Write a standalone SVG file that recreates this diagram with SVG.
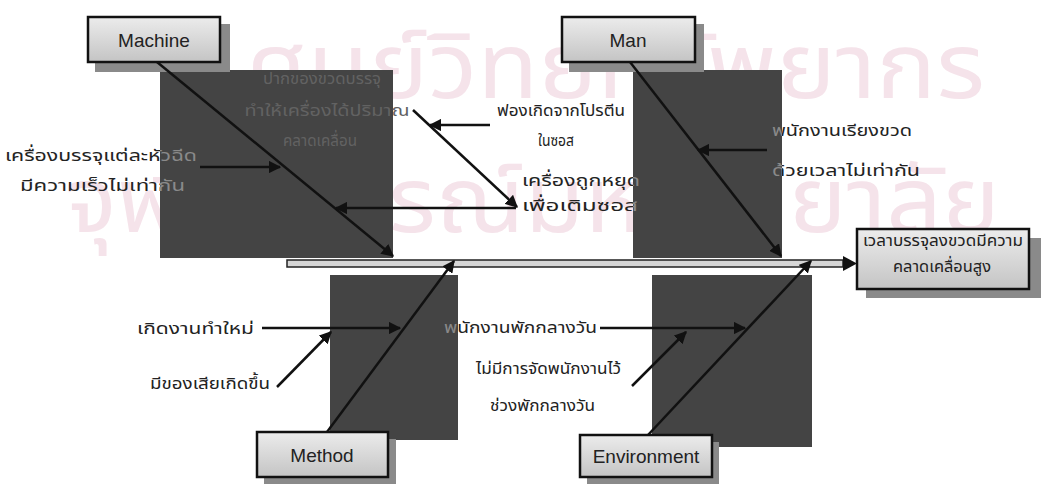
<svg xmlns="http://www.w3.org/2000/svg" width="1051" height="484" viewBox="0 0 1051 484">
<style>
.wm{font-family:"Noto Sans Thai","Tahoma","DejaVu Sans",sans-serif;font-size:92px;fill:#f5e3ea}
.t{font-family:"Noto Sans Thai","Tahoma","Liberation Sans",sans-serif;font-size:16.5px;fill:#222}
.ti{font-family:"Noto Sans Thai","Tahoma","Liberation Sans",sans-serif;font-size:16px;fill:#626262}
.lbl{font-family:"Liberation Sans",Arial,sans-serif;font-size:19px;fill:#222;text-anchor:middle}
.eff{font-family:"Noto Sans Thai","Tahoma","Liberation Sans",sans-serif;font-size:16px;fill:#222;text-anchor:middle}
.dark{fill:#444}
.box{fill:url(#g);stroke:#111;stroke-width:2.5}
.sh{fill:#8a8a8a}
.ar{stroke:#111;stroke-width:2.5;fill:none;marker-end:url(#ah)}
</style>
<defs>
<linearGradient id="g" x1="0" y1="0" x2="0" y2="1"><stop offset="0" stop-color="#ececec"/><stop offset="1" stop-color="#c4c4c4"/></linearGradient>
<linearGradient id="gM" gradientUnits="userSpaceOnUse" x1="0" y1="0" x2="1051" y2="0"><stop offset="0" stop-color="#222"/><stop offset="0.1522" stop-color="#222"/><stop offset="0.1522" stop-color="#8a8a8a"/><stop offset="1" stop-color="#8a8a8a"/></linearGradient>
<linearGradient id="gC" gradientUnits="userSpaceOnUse" x1="0" y1="0" x2="1051" y2="0"><stop offset="0" stop-color="#222"/><stop offset="0.6023" stop-color="#222"/><stop offset="0.6023" stop-color="#8a8a8a"/><stop offset="1" stop-color="#8a8a8a"/></linearGradient>
<linearGradient id="gR" gradientUnits="userSpaceOnUse" x1="0" y1="0" x2="1051" y2="0"><stop offset="0" stop-color="#8a8a8a"/><stop offset="0.7441" stop-color="#8a8a8a"/><stop offset="0.7441" stop-color="#222"/><stop offset="1" stop-color="#222"/></linearGradient>
<linearGradient id="gL" gradientUnits="userSpaceOnUse" x1="0" y1="0" x2="1051" y2="0"><stop offset="0" stop-color="#8a8a8a"/><stop offset="0.4358" stop-color="#8a8a8a"/><stop offset="0.4358" stop-color="#222"/><stop offset="1" stop-color="#222"/></linearGradient>
<marker id="ah" viewBox="0 0 10 10" refX="9" refY="5" markerWidth="5" markerHeight="5" orient="auto" markerUnits="strokeWidth"><path d="M0,0 L10,5 L0,10 Z" fill="#111"/></marker>
</defs>
<rect width="1051" height="484" fill="#fff"/>
<g id="watermark">
<text class="wm" x="245" y="98" textLength="740" lengthAdjust="spacingAndGlyphs">ศูนย์วิทยทรัพยากร</text>
<text class="wm" x="65" y="232" textLength="935" lengthAdjust="spacingAndGlyphs">จุฬาลงกรณ์มหาวิทยาลัย</text>
</g>
<g id="machine">
<rect class="dark" x="160" y="70" width="233" height="188"/>
<rect class="sh" x="95" y="24" width="135" height="48"/>
<rect class="box" x="88" y="17" width="132" height="45"/>
<text class="lbl" x="154" y="47">Machine</text>
</g>
<g id="man">
<rect class="dark" x="633" y="70" width="149" height="188"/>
<rect class="sh" x="569" y="24" width="135" height="48"/>
<rect class="box" x="562" y="17" width="133" height="45"/>
<text class="lbl" x="628" y="47">Man</text>
</g>
<g id="method">
<rect class="dark" x="330" y="275" width="128" height="165"/>
<rect class="sh" x="264" y="439" width="132" height="45"/>
<rect class="box" x="257" y="432" width="131" height="45"/>
<text class="lbl" x="322" y="462">Method</text>
</g>
<g id="environment">
<rect class="dark" x="652" y="275" width="160" height="172"/>
<rect class="sh" x="587" y="442" width="132" height="42"/>
<rect class="box" x="580" y="435" width="132" height="42"/>
<text class="lbl" x="646" y="463">Environment</text>
</g>
<g id="effect">
<rect class="sh" x="866" y="238" width="175" height="60"/>
<rect class="box" x="857" y="229" width="172" height="60"/>
<text class="eff" x="943" y="246" textLength="160" lengthAdjust="spacingAndGlyphs">เวลาบรรจุลงขวดมีความ</text>
<text class="eff" x="942" y="272" textLength="98" lengthAdjust="spacingAndGlyphs">คลาดเคลื่อนสูง</text>
</g>
<g id="machine-causes">
<text class="t" x="5" y="161" textLength="192" lengthAdjust="spacingAndGlyphs" fill="url(#gM)" style="fill:url(#gM)">เครื่องบรรจุแต่ละหัวฉีด</text>
<text class="t" x="20" y="191" textLength="165" lengthAdjust="spacingAndGlyphs" style="fill:url(#gM)">มีความเร็วไม่เท่ากัน</text>
<text class="ti" x="322" y="84" text-anchor="middle" textLength="118" lengthAdjust="spacingAndGlyphs">ปากของขวดบรรจุ</text>
<text class="ti" x="327" y="116" text-anchor="middle" textLength="165" lengthAdjust="spacingAndGlyphs">ทำให้เครื่องได้ปริมาณ</text>
<text class="ti" x="320" y="146" text-anchor="middle" textLength="74" lengthAdjust="spacingAndGlyphs">คลาดเคลื่อน</text>
<text class="t" x="497" y="116" textLength="128" lengthAdjust="spacingAndGlyphs" style="fill:url(#gC)">ฟองเกิดจากโปรตีน</text>
<text class="t" x="538" y="146" textLength="36" lengthAdjust="spacingAndGlyphs">ในซอส</text>
<text class="t" x="522" y="186" textLength="118" lengthAdjust="spacingAndGlyphs" style="fill:url(#gC)">เครื่องถูกหยุด</text>
<text class="t" x="522" y="211" textLength="116" lengthAdjust="spacingAndGlyphs" style="fill:url(#gC)">เพื่อเติมซอส</text>
</g>
<g id="man-causes">
<text class="t" x="772" y="136" textLength="140" lengthAdjust="spacingAndGlyphs" style="fill:url(#gR)">พนักงานเรียงขวด</text>
<text class="t" x="772" y="176" textLength="148" lengthAdjust="spacingAndGlyphs" style="fill:url(#gR)">ด้วยเวลาไม่เท่ากัน</text>
</g>
<g id="method-causes">
<text class="t" x="137" y="334" textLength="117" lengthAdjust="spacingAndGlyphs">เกิดงานทำใหม่</text>
<text class="t" x="150" y="389" textLength="120" lengthAdjust="spacingAndGlyphs">มีของเสียเกิดขึ้น</text>
</g>
<g id="environment-causes">
<text class="t" x="444" y="333" textLength="153" lengthAdjust="spacingAndGlyphs" style="fill:url(#gL)">พนักงานพักกลางวัน</text>
<text class="t" x="476" y="374" textLength="145" lengthAdjust="spacingAndGlyphs">ไม่มีการจัดพนักงานไว้</text>
<text class="t" x="490" y="411" textLength="105" lengthAdjust="spacingAndGlyphs">ช่วงพักกลางวัน</text>
</g>
<g id="connectors">
<rect x="287" y="260" width="556" height="7" fill="#d6d6d6" stroke="#222" stroke-width="1.5"/>
<path d="M843,256 L857,263.5 L843,271 Z" fill="#111"/>
<line class="ar" x1="157" y1="62" x2="393" y2="256"/>
<line class="ar" x1="630" y1="62" x2="781" y2="256"/>
<line class="ar" x1="327" y1="432" x2="454" y2="261"/>
<line class="ar" x1="648" y1="435" x2="811" y2="261"/>
<line class="ar" x1="200" y1="167" x2="280" y2="167"/>
<line class="ar" x1="413" y1="110" x2="517" y2="207"/>
<line class="ar" x1="516" y1="208" x2="336" y2="208"/>
<line class="ar" x1="490" y1="125" x2="430" y2="125"/>
<line class="ar" x1="767" y1="150" x2="698" y2="150"/>
<line class="ar" x1="262" y1="328" x2="400" y2="328"/>
<line class="ar" x1="277" y1="387" x2="331" y2="332"/>
<line class="ar" x1="600" y1="328" x2="745" y2="328"/>
<line class="ar" x1="632" y1="386" x2="686" y2="332"/>
</g>
</svg>
